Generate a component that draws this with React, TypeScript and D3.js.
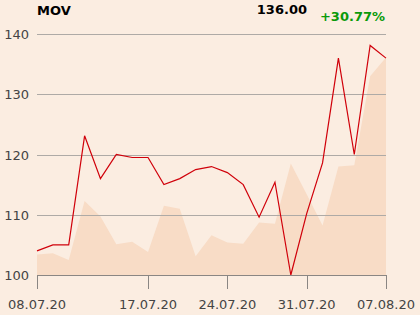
import React from "react";
import * as d3 from "d3";

const dates = [
  "08.07.20", "09.07.20", "10.07.20", "13.07.20", "14.07.20", "15.07.20", "16.07.20", "17.07.20",
  "20.07.20", "21.07.20", "22.07.20", "23.07.20", "24.07.20", "27.07.20", "28.07.20", "29.07.20",
  "30.07.20", "31.07.20", "03.08.20", "04.08.20", "05.08.20", "06.08.20", "07.08.20",
];
const prices = [
  104.0, 105.0, 105.0, 123.1, 116.0, 120.0, 119.5, 119.5, 115.0, 116.0, 117.5, 118.0,
  117.0, 115.0, 109.6, 115.4, 100.0, 110.2, 118.6, 136.0, 120.0, 138.1, 136.0,
];
const shade = [
  103.4, 103.6, 102.5, 112.3, 109.7, 105.1, 105.5, 103.8, 111.5, 111.0, 103.1, 106.6,
  105.4, 105.2, 108.7, 108.5, 118.5, 113.4, 108.2, 118.0, 118.2, 133.0, 136.1,
];
const yTicks = [100, 110, 120, 130, 140];
const xTickLabels = ["08.07.20", "17.07.20", "24.07.20", "31.07.20", "07.08.20"];
const title = "MOV";
const lastLabel = "136.00";
const changeLabel = "+30.77%";

const W = 420, H = 315;
const left = 37, right = 386, top = 34, bottom = 275;
const font = "DejaVu Sans, sans-serif";

export default function App() {
  const x = d3.scaleLinear().domain([0, dates.length - 1]).range([left, right]);
  const y = d3.scaleLinear().domain([100, 140]).range([bottom, top]);
  const area = d3.area<number>().x((_, i) => x(i)).y0(y(100)).y1((d) => y(d));
  const line = d3.line<number>().x((_, i) => x(i)).y((d) => y(d));
  return (
    <svg width={W} height={H} style={{ position: "absolute", left: 0, top: 0, display: "block" }}>
      <rect x={0} y={0} width={W} height={H} fill="#FBEDE1" />
      <path d={area(shade) || ""} fill="#F8DCC6" />
      {yTicks.map((t) => (
        <g key={t}>
          {t !== 100 && (
            <line x1={left} x2={right} y1={Math.round(y(t)) + 0.5} y2={Math.round(y(t)) + 0.5} stroke="#AEAAA6" strokeWidth={1} />
          )}
          <text x={29} y={y(t) + 5} textAnchor="end" fontFamily={font} fontSize={13} fill="#444">
            {t}
          </text>
        </g>
      ))}
      <path d={line(prices) || ""} fill="none" stroke="#D0000A" strokeWidth={1.2} />
      <line x1={left} x2={right} y1={bottom + 0.5} y2={bottom + 0.5} stroke="#8A8683" strokeWidth={1} />
      {xTickLabels.map((lab) => {
        const i = dates.indexOf(lab);
        const px = Math.round(x(i)) + 0.5;
        return (
          <g key={lab}>
            <line x1={px} x2={px} y1={bottom} y2={289} stroke="#8A8683" strokeWidth={1} />
            <text x={x(i)} y={309} textAnchor="middle" fontFamily={font} fontSize={13} fill="#444">
              {lab}
            </text>
          </g>
        );
      })}
      <text x={37} y={15} fontFamily={font} fontSize={13} fontWeight="bold" fill="#000">
        {title}
      </text>
      <text x={307} y={14} textAnchor="end" fontFamily={font} fontSize={13} fontWeight="bold" fill="#000">
        {lastLabel}
      </text>
      <text x={385} y={21} textAnchor="end" fontFamily={font} fontSize={13} fontWeight="bold" fill="#0A9A0A">
        {changeLabel}
      </text>
    </svg>
  );
}
